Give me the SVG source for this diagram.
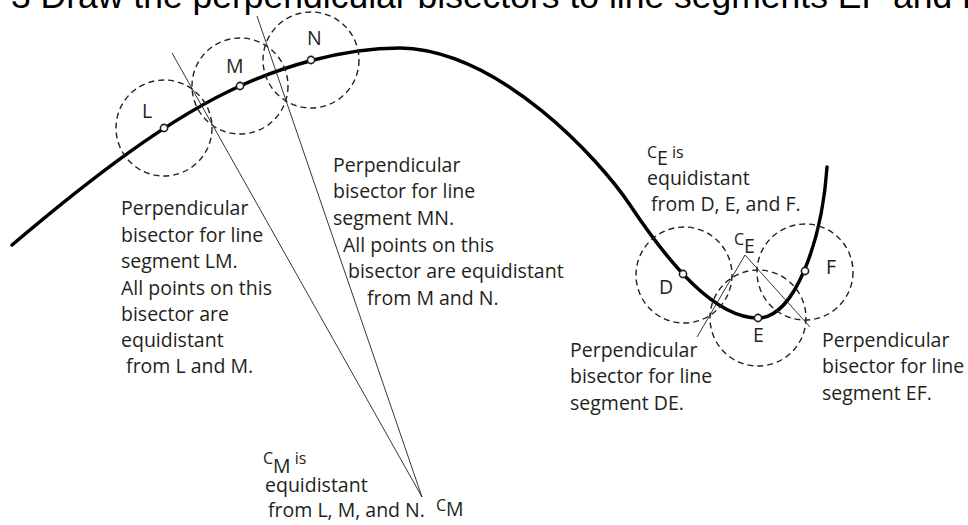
<svg xmlns="http://www.w3.org/2000/svg" width="968" height="525" viewBox="0 0 968 525">
<style>
.t{font-family:"Open Sans","Noto Sans",sans-serif;font-size:19.5px;fill:#231f20}
.title{font-family:"Liberation Sans",Arial,sans-serif;font-size:35.5px;fill:#000}
.circ{fill:none;stroke:#231f20;stroke-width:1.4;stroke-dasharray:6 4}
.dot{fill:#fff;stroke:#231f20;stroke-width:1.6}
.bis{stroke:#231f20;stroke-width:0.9;fill:none}
.curve{fill:none;stroke:#000;stroke-width:3.5;stroke-linecap:round}
.sm{font-size:16px}
</style>
<rect width="968" height="525" fill="#fff"/>
<text class="title" x="11" y="8">3 Draw the perpendicular bisectors to line segments EF and F</text>

<path id="curve" class="curve" d="M12,245 C92,177 170,117.5 240,86 C280,68 340,48 400,48 C500,50 600,160 630,205 C670,265 715,318 758,318 C795,318 822,240 827,167"/>

<g id="connectors">
<line class="bis" x1="172" y1="53" x2="422" y2="497"/>
<line class="bis" x1="257" y1="16" x2="422" y2="497"/>
<polyline class="bis" points="697,337 745,255 810,327"/>
</g>

<g id="node-L"><circle class="circ" cx="164" cy="128" r="48"/><circle class="dot" cx="164" cy="128" r="3.6"/><text class="t" x="142" y="118">L</text></g>
<g id="node-M"><circle class="circ" cx="240" cy="86" r="48"/><circle class="dot" cx="240" cy="86" r="3.6"/><text class="t" x="226" y="73">M</text></g>
<g id="node-N"><circle class="circ" cx="311" cy="60" r="48"/><circle class="dot" cx="311" cy="60" r="3.6"/><text class="t" x="307" y="45">N</text></g>
<g id="node-D"><circle class="circ" cx="684" cy="275" r="48"/><circle class="dot" cx="683" cy="274" r="3.6"/><text class="t" x="659" y="294">D</text></g>
<g id="node-E"><circle class="circ" cx="758" cy="318" r="48"/><circle class="dot" cx="758" cy="318" r="3.6"/><text class="t" x="753" y="342">E</text></g>
<g id="node-F"><circle class="circ" cx="805" cy="272" r="48"/><circle class="dot" cx="805" cy="271" r="3.6"/><text class="t" x="826" y="274">F</text></g>

<g id="label-LM">
<text class="t" x="121" y="215">Perpendicular</text>
<text class="t" x="121" y="242">bisector for line</text>
<text class="t" x="121" y="268">segment LM.</text>
<text class="t" x="121" y="295">All points on this</text>
<text class="t" x="121" y="321">bisector are</text>
<text class="t" x="121" y="347">equidistant</text>
<text class="t" x="121" y="373" xml:space="preserve"> from L and M.</text>
</g>

<g id="label-MN">
<text class="t" x="333" y="172">Perpendicular</text>
<text class="t" x="333" y="198">bisector for line</text>
<text class="t" x="333" y="225">segment MN.</text>
<text class="t" x="343" y="252">All points on this</text>
<text class="t" x="348" y="278">bisector are equidistant</text>
<text class="t" x="367" y="305">from M and N.</text>
</g>

<g id="label-CM-note">
<text class="t" x="263" y="464"><tspan class="sm">C</tspan><tspan dy="9">M</tspan><tspan class="sm" dy="-9"> is</tspan></text>
<text class="t" x="265" y="492">equidistant</text>
<text class="t" x="268" y="517">from L, M, and N.</text>
</g>

<g id="node-CM"><text class="t" x="436" y="511"><tspan class="sm">C</tspan><tspan dy="5">M</tspan></text></g>

<g id="label-CE-note">
<text class="t" x="647" y="158"><tspan class="sm">C</tspan><tspan dy="7">E</tspan><tspan class="sm" dy="-7"> is</tspan></text>
<text class="t" x="647" y="185">equidistant</text>
<text class="t" x="651" y="211">from D, E, and F.</text>
</g>

<g id="node-CE"><text class="t" x="734" y="245"><tspan class="sm">C</tspan><tspan dy="8">E</tspan></text></g>

<g id="label-DE">
<text class="t" x="570" y="357">Perpendicular</text>
<text class="t" x="570" y="383">bisector for line</text>
<text class="t" x="570" y="410">segment DE.</text>
</g>

<g id="label-EF">
<text class="t" x="822" y="347">Perpendicular</text>
<text class="t" x="822" y="373">bisector for line</text>
<text class="t" x="822" y="400">segment EF.</text>
</g>
</svg>
